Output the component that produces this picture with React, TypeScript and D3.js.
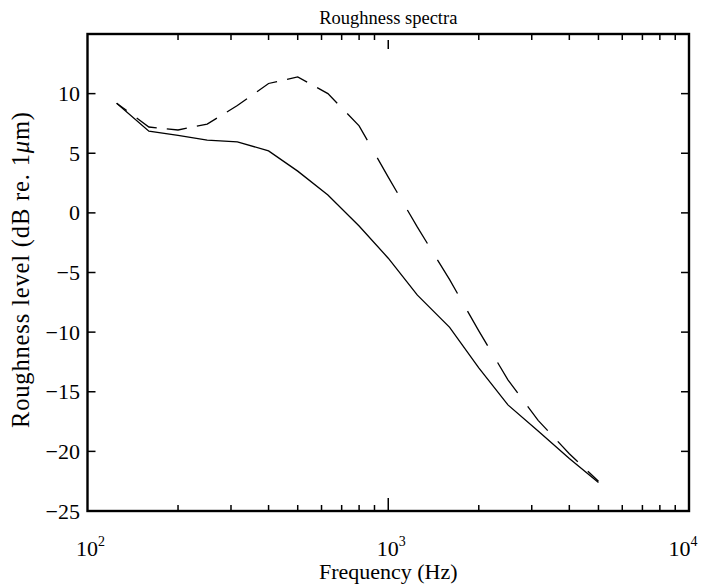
import React from 'react';
import * as d3 from 'd3';

const frequencies = [125, 160, 200, 250, 315, 400, 500, 630, 800, 1000, 1250, 1600, 2000, 2500, 3150, 4000, 5000];
const solidLevels = [9.2, 6.85, 6.5, 6.1, 5.95, 5.2, 3.5, 1.5, -1.1, -3.8, -6.9, -9.6, -13.0, -16.1, -18.3, -20.6, -22.6];
const dashedLevels = [9.2, 7.2, 6.95, 7.45, 9.0, 10.85, 11.4, 10.0, 7.3, 3.0, -1.2, -5.6, -9.9, -14.0, -17.4, -20.2, -22.5];
const yTickValues = [10, 5, 0, -5, -10, -15, -20, -25];
const xDecades = [100, 1000, 10000];
const xExponents = ['2', '3', '4'];
const titleText = 'Roughness spectra';
const xLabelText = 'Frequency (Hz)';

const W = 704;
const H = 585;
const L = 87.5;
const R = 689;
const T = 34;
const B = 511;
const FONT = '"Liberation Serif", "Times New Roman", serif';

function fmt(v: number) {
  return v < 0 ? '\u2212' + Math.abs(v) : String(v);
}

function dashPieces(pts: [number, number][], period: number, dash: number, offset: number) {
  const x0 = pts[0][0];
  const xEnd = pts[pts.length - 1][0];
  const yAt = (xx: number) => {
    for (let i = 0; i < pts.length - 1; i++) {
      const [ax, ay] = pts[i];
      const [bx, by] = pts[i + 1];
      if (xx >= ax && xx <= bx) {
        const t = bx === ax ? 0 : (xx - ax) / (bx - ax);
        return ay + t * (by - ay);
      }
    }
    return pts[pts.length - 1][1];
  };
  const pieces: [number, number][][] = [];
  for (let s = x0 + offset; s < xEnd; s += period) {
    const a = Math.max(s, x0);
    const b = Math.min(s + dash, xEnd);
    if (b <= a) continue;
    const seg: [number, number][] = [[a, yAt(a)]];
    pts.forEach((p) => {
      if (p[0] > a && p[0] < b) seg.push(p);
    });
    seg.push([b, yAt(b)]);
    pieces.push(seg);
  }
  return pieces;
}

export default function App() {
  const x = d3.scaleLog().domain([100, 10000]).range([L, R]);
  const y = d3.scaleLinear().domain([-25, 15]).range([B, T]);
  const line = d3.line<[number, number]>().x((d) => d[0]).y((d) => d[1]);

  const solidPts: [number, number][] = frequencies.map((f, i) => [x(f), y(solidLevels[i])]);
  const dashedPts: [number, number][] = frequencies.map((f, i) => [x(f), y(dashedLevels[i])]);
  const period = x(10 ** 0.1 * 100) - x(100);
  const pieces = dashPieces(dashedPts, period, (period * 2) / 3, -period / 3);

  const minorTicks = x.ticks().filter((t) => !xDecades.includes(t));

  return (
    <svg width={W} height={H} style={{ position: 'absolute', left: 0, top: 0, background: '#fff' }}>
      <rect x={0} y={0} width={W} height={H} fill="#fff" />
      {/* curves */}
      <path d={line(solidPts) || ''} fill="none" stroke="#000" strokeWidth={1.3} />
      {pieces.map((seg, i) => (
        <path key={i} d={line(seg) || ''} fill="none" stroke="#000" strokeWidth={1.3} />
      ))}

      {/* y ticks */}
      {yTickValues.map((v) => (
        <g key={v}>
          <line x1={L} x2={L + 8} y1={y(v)} y2={y(v)} stroke="#000" strokeWidth={1.5} />
          <line x1={R} x2={R - 8} y1={y(v)} y2={y(v)} stroke="#000" strokeWidth={1.5} />
          <text x={80} y={y(v) + 7.5} textAnchor="end" fontFamily={FONT} fontSize={22}>
            {fmt(v)}
          </text>
        </g>
      ))}

      {/* x minor ticks */}
      {minorTicks.map((t) => (
        <g key={t}>
          <line x1={x(t)} x2={x(t)} y1={B} y2={B - 6} stroke="#000" strokeWidth={1.5} />
          <line x1={x(t)} x2={x(t)} y1={T} y2={T + 6} stroke="#000" strokeWidth={1.5} />
        </g>
      ))}
      {/* x major tick at 10^3 */}
      <line x1={x(1000)} x2={x(1000)} y1={B} y2={B - 13} stroke="#000" strokeWidth={1.5} />
      <line x1={x(1000)} x2={x(1000)} y1={T + 6} y2={T + 15} stroke="#000" strokeWidth={1.5} />

      {/* x tick labels */}
      {xDecades.map((d, i) => (
        <text
          key={d}
          x={Math.min(x(d) + 3, 683)}
          y={556}
          textAnchor="middle"
          fontFamily={FONT}
          fontSize={22}
        >
          10
          <tspan dy={-10} fontSize={14}>
            {xExponents[i]}
          </tspan>
        </text>
      ))}

      {/* frame */}
      <rect x={L} y={T} width={R - L} height={B - T} fill="none" stroke="#000" strokeWidth={2.4} />

      {/* title & labels */}
      <text x={(L + R) / 2} y={24} textAnchor="middle" fontFamily={FONT} fontSize={18.5}>
        {titleText}
      </text>
      <text x={(L + R) / 2} y={579} textAnchor="middle" fontFamily={FONT} fontSize={22}>
        {xLabelText}
      </text>
      <text
        transform={`translate(29, 270) rotate(-90)`}
        textAnchor="middle"
        fontFamily={FONT}
        fontSize={24.5}
        textLength={316}
        lengthAdjust="spacing"
      >
        Roughness level (dB re. 1<tspan fontStyle="italic">μ</tspan>m)
      </text>
    </svg>
  );
}
